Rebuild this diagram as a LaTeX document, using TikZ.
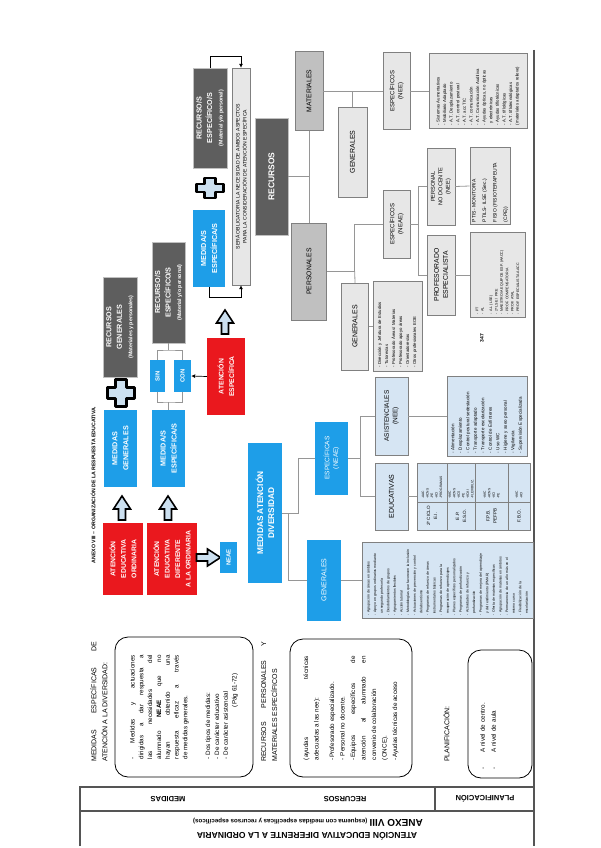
\documentclass[tikz,border=0pt]{standalone}
\usepackage{fontspec}
\setmainfont{Liberation Sans}
\usetikzlibrary{arrows.meta, positioning}

\definecolor{skyblue}{RGB}{30,158,232}
\definecolor{alertred}{RGB}{234,24,30}
\definecolor{darkgrey}{RGB}{94,94,94}
\definecolor{midgrey}{RGB}{192,192,192}
\definecolor{lightgrey}{RGB}{231,231,231}
\definecolor{paleblue}{RGB}{214,229,243}
\definecolor{arrowblue}{RGB}{204,224,240}
\definecolor{framegrey}{RGB}{85,85,85}
\definecolor{linegrey}{RGB}{150,150,150}

\newcommand{\fsz}[2]{\fontsize{#1}{#2}\selectfont}

\tikzset{
  uparrow/.pic={
    \draw[line width=1.6pt, fill=arrowblue, line join=miter]
      (-3.5,12) -- (-3.5,1) -- (-8.5,1) -- (0,-12) -- (8.5,1) -- (3.5,1) -- (3.5,12) -- cycle;
  },
  plussign/.pic={
    \draw[line width=2.2pt, fill=arrowblue, line join=round]
      (-5.5,-13.5) -- (5.5,-13.5) -- (5.5,-5.5) -- (13.5,-5.5) -- (13.5,5.5) -- (5.5,5.5)
      -- (5.5,13.5) -- (-5.5,13.5) -- (-5.5,5.5) -- (-13.5,5.5) -- (-13.5,-5.5) -- (-5.5,-5.5) -- cycle;
  }
}

\begin{document}
\begin{tikzpicture}[
  x=1pt, y=-1pt,
  tag/.style={rotate=90, inner sep=1pt, align=center},
  redbox/.style={tag, fill=alertred, text=white, font=\bfseries\fsz{6.8}{10.5}},
  bluebox/.style={tag, fill=skyblue, text=white, font=\bfseries\fsz{7.2}{11}},
  bluetag/.style={tag, fill=skyblue, text=white, font=\fsz{6.5}{8.5}},
  darkbox/.style={tag, fill=darkgrey, draw=midgrey, text=white, font=\bfseries\fsz{7.2}{10.5}},
  midbox/.style={tag, fill=midgrey, draw=gray, font=\fsz{6.8}{8.5}},
  greybox/.style={tag, fill=lightgrey, draw=gray, font=\fsz{6.5}{8.5}},
  palebox/.style={tag, fill=paleblue, draw=gray, font=\fsz{6.5}{8.5}},
  listbox/.style={tag, draw=gray, align=left, inner sep=2pt},
  roundbox/.style={tag, draw=black, thick, rounded corners=13pt},
  link/.style={draw=linegrey, line width=0.8pt},
  pointer/.style={draw=black, line width=0.7pt, -{Latex[length=4pt,width=4pt]}},
  frame/.style={draw=framegrey, line width=1.5pt},
  flip/.style={rotate=180, inner sep=0pt, font=\bfseries\fsz{7.5}{9}}
]
\useasboundingbox (0,0) rectangle (600,848);

% page frame and heading rows
\draw[frame] (534,50) -- (534,846);
\draw[frame] (80,846) -- (80,787) -- (534,787);
\draw[frame] (80,811) -- (534,811);
\draw[frame] (435,787) -- (435,811);
\node[flip] (hmedidas) at (168,799) {MEDIDAS};
\node[flip] (hrecursos) at (345,799) {RECURSOS};
\node[flip] (hplan) at (485,799) {PLANIFICACIÓN};
\node[flip] (hanexo) at (308,822) {{\fsz{10}{12}ANEXO VIII} {\fsz{6.2}{8}(esquema con medidas específicas y recursos específicos)}};
\node[flip, font=\bfseries\fsz{8.6}{10}] (htitle) at (307,836) {ATENCIÓN EDUCATIVA DIFERENTE A LA ORDINARIA};

% left column
\node[tag, anchor=north west, text width=120pt, align=justify, font=\fsz{7}{11}] (headmed) at (89,763)
  {MEDIDAS ESPECÍFICAS DE\linebreak ATENCIÓN A LA DIVERSIDAD:};
\node[roundbox, minimum width=140pt, minimum height=138pt, text width=104pt, align=justify, font=\fsz{6.3}{8.8}] (boxmed) at (184,707)
  {- Medidas y actuaciones\linebreak dirigidas a dar respuesta a\linebreak las necesidades del\linebreak
   alumnado {\bfseries NEAE} que no\linebreak hayan obtenido una\linebreak respuesta eficaz a través\linebreak
   de medidas generales.\\[14pt]
   - Dos tipos de medidas:\\ - De carácter educativo\\ - De carácter asistencial\\ \hspace*{52pt}(Pág 61-72)};
\node[tag, anchor=north west, text width=120pt, align=justify, font=\fsz{7}{11}] (headrec) at (260,763)
  {RECURSOS PERSONALES Y\linebreak MATERIALES ESPECÍFICOS};
\node[roundbox, minimum width=138pt, minimum height=122pt, text width=104pt, align=justify, font=\fsz{6.3}{10.5}] (boxrec) at (351,708)
  {(ayudas\hfill técnicas\linebreak adecuadas a las nee):\\[5pt]
   -Profesorado especializado.\\ - Personal no docente.\\ -Equipos específicos de\linebreak
   atención al alumnado en\linebreak convenio de colaboración\\ (ONCE).\\ -Ayudas técnicas de acceso};
\node[tag, anchor=north west, font=\fsz{7}{11}] (headplan) at (442,763) {PLANIFICACIÓN:};
\node[roundbox, minimum width=128pt, minimum height=64pt] (boxplan) at (500,714) {};
\node[tag, text width=110pt, align=left, font=\fsz{6.3}{11}] (planlist) at (488,714)
  {-\hspace{14pt}A nivel de centro.\\ -\hspace{14pt}A nivel de aula};

% title
\node[tag, font=\bfseries\fsz{5.2}{6}] (anexo) at (93,485) {ANEXO VIII – ORGANIZACIÓN DE LA RESPUESTA EDUCATIVA.};

% attention types and measures
\node[redbox, minimum width=72pt, minimum height=40pt] (ordinaria) at (123,559) {ATENCIÓN\\EDUCATIVA\\ORDINARIA};
\node[redbox, minimum width=72pt, minimum height=50pt] (diferente) at (172,559) {ATENCIÓN\\EDUCATIVA\\DIFERENTE\\A LA ORDINARIA};
\pic at (122,508) {uparrow};
\pic at (168,508) {uparrow};
\node[bluebox, minimum width=77pt, minimum height=33pt] (medgen) at (120.5,448.5) {MEDIDAS\\GENERALES};
\node[bluebox, minimum width=77pt, minimum height=33pt] (medesp) at (168.5,448.5) {MEDIDA/S\\ESPECÍFICA/S};
\pic at (121,393) {plussign};
\node[bluebox, font=\bfseries\fsz{6}{7}, minimum width=32pt, minimum height=15pt] (sin) at (157.5,376) {SIN};
\node[bluebox, font=\bfseries\fsz{6}{7}, minimum width=32pt, minimum height=17pt] (con) at (182.5,376) {CON};
\node[redbox, minimum width=77pt, minimum height=38pt] (especifica) at (226,376.5) {ATENCIÓN\\ESPECÍFICA};
\node[darkbox, minimum width=100pt, minimum height=34pt] (recgen) at (120,327)
  {RECURSOS\\GENERALES\\{\fsz{5.3}{6}(Materiales y personales)}};
\node[darkbox, minimum width=101pt, minimum height=33pt] (recesp) at (168.5,292.5)
  {RECURSO/S\\ESPECÍFICO/S\\{\fsz{5.3}{6}(Material y/o personal)}};
\coordinate (sinconlow) at (168.5,402);
\coordinate (sinconup) at (168.5,350);
\draw[link] (sin.west) |- (sinconlow) -| (con.west);
\draw[link] (sinconlow) -- (medesp.east);
\draw[link] (sin.east) |- (sinconup) -| (con.east);
\draw[link] (sinconup) -- (recesp.west);
\draw[pointer] (especifica.north) -- (con.south);

% both aspects
\pic at (225,322) {uparrow};
\node[bluebox, minimum width=77pt, minimum height=32pt] (medesp2) at (209,248.5) {MEDIDA/S\\ESPECÍFICA/S};
\pic[yscale=0.75] at (210,188) {plussign};
\node[darkbox, minimum width=100pt, minimum height=34pt] (recesp2) at (210,118)
  {RECURSO/S\\ESPECÍFICO/S\\{\fsz{5.3}{6}(Material y/o personal)}};
\node[greybox, font=\fsz{5.1}{7}, minimum width=217pt, minimum height=18pt, inner sep=0pt] (obligatoria) at (241,176.5)
  {SERÁ OBLIGATORIA LA NECESIDAD DE AMBOS ASPECTOS\\PARA LA CONSIDERACIÓN DE ATENCIÓN ESPECÍFICA};
\draw[pointer] (recesp2.east) -- ++(0,-11) -| (obligatoria.east);
\draw[pointer] (medesp2.west) -- ++(0,10) -| (obligatoria.west);

% resources tree
\node[darkbox, font=\bfseries\fsz{8.5}{10}, minimum width=117pt, minimum height=33pt] (recursos) at (271.5,176.5) {RECURSOS};
\node[midbox, minimum width=79pt, minimum height=28pt] (materiales) at (309,91) {MATERIALES};
\node[midbox, minimum width=97pt, minimum height=35pt] (personales) at (309,271.5) {PERSONALES};
\draw[link] (materiales.west) -- (personales.east);
\draw[link] (recursos.south) -- (recursos.south -| materiales.west);

\node[greybox, font=\fsz{7}{9}, minimum width=90pt, minimum height=29pt] (matgen) at (352.5,152) {GENERALES};
\node[greybox, font=\fsz{6}{8}, minimum width=77pt, minimum height=27pt] (matesp) at (396.5,91) {ESPECÍFICOS\\(NEE)};
\node[listbox, fill=lightgrey, font=\fsz{4.3}{6.6}, text width=68pt, minimum width=75pt, minimum height=98pt] (matlist) at (478,91)
  {- Sistemas Aumentativos\\- Mobiliario Adaptado\\- A.T. Desplazamiento\\- A.T. control postural\\- A.T. acc TIC\\
   - A.T. comunicación\\- A.T. Comunicación Auditiva\\- Ayudas ópticas, no ópticas\\ \ y electrónicas\\
   - Ayudas tiflotécnicas\\- A.T. tiflológicas\\- A.T. tiflotecnológicas\\(materiales adaptados relieve)};
\draw[link] (materiales.south) -- (matesp.north);
\draw[link] (matgen.east) -- (matgen.east |- materiales.south);
\draw[link] (matesp.south) -- (matlist.north);

\node[greybox, font=\fsz{7}{9}, minimum width=87pt, minimum height=27pt] (pergen) at (355,326.5) {GENERALES};
\node[greybox, font=\fsz{6}{8}, minimum width=68pt, minimum height=27pt] (peresp) at (396.5,224) {ESPECÍFICOS\\(NEAE)};
\node[listbox, fill=lightgrey, font=\fsz{4.3}{7}, text width=82pt, minimum width=90pt, minimum height=49pt] (pergenlist) at (397.5,326.5)
  {- Dirección y Jefatura de Estudios\\- Tutores/as\\- Profesorado Áreas/ Materias\\- Profesorado apoyo áreas\\
   - Orientadores/as\\- Otros profesionales EOE};
\draw[link] (personales.south) -- ++(28,0) coordinate (perbus) |- (peresp.north);
\draw[link] (perbus) -- (pergen.east);
\draw[link] (pergen.south) -- (pergenlist.north);

\node[greybox, font=\fsz{5.6}{7.5}, minimum width=77pt, minimum height=28pt] (nodocente) at (441,186.5) {PERSONAL\\NO DOCENTE\\(NEE)};
\node[greybox, font=\fsz{6.8}{9}, minimum width=80pt, minimum height=28pt] (especialista) at (441,275) {PROFESORADO\\ESPECIALISTA};
\draw[link] (peresp.south) -- ++(8,0) coordinate (espbus);
\draw[link] (nodocente.north) -| (espbus) |- (especialista.north);
\node[listbox, fill=lightgrey, font=\fsz{5}{10.5}, text width=72pt, minimum width=77pt, minimum height=40pt] (nodoclist) at (490,186)
  {PTIS- MONITOR/A\\PTILS- ILSE (Sec.)\\FISIO (FISIOTERAPEUTA (CPE))};
\node[listbox, fill=lightgrey, font=\fsz{3.6}{5.4}, text width=78pt, minimum width=85pt, minimum height=55pt] (esplist) at (497.5,275)
  {- PT\\- AL\\[3pt]- A.L (LSE)\\- 2ª LSE / PRE\\- MAESTRO/A EQUIPOS ESP. (AACC)\\- PROF. COMPENSATORIA\\- PROF. ATAL\\- PROF. ESPECIALISTA AACC};
\draw[link] (nodocente.south) -- (nodoclist.north);
\draw[link] (especialista.south) -- (esplist.north);
\node[tag, font=\bfseries\fsz{5}{6}] (pagenum) at (482,338) {347};

% measures for diversity
\pic[rotate=-90] at (208.5,557.5) {uparrow};
\node[bluebox, font=\bfseries\fsz{6}{7}, minimum width=31pt, minimum height=17pt] (neae) at (228.5,557.5) {NEAE};
\node[bluebox, font=\bfseries\fsz{8.3}{11}, minimum width=140pt, minimum height=34pt] (diversidad) at (265,513) {MEDIDAS ATENCIÓN\\DIVERSIDAD};
\node[bluetag, minimum width=73pt, minimum height=33pt] (mespecif) at (331.5,458) {ESPECÍFICAS\\(NEAE)};
\node[bluetag, font=\fsz{7}{9}, minimum width=81pt, minimum height=34pt] (mgeneral) at (324,580) {GENERALES};
\draw[link] (diversidad.south) -- ++(16,0) |- (mespecif.north);
\draw[link] (diversidad.south) ++(6,0) |- (mgeneral.north);
\node[listbox, fill=paleblue, font=\fsz{3.5}{6.6}, text width=70pt, minimum width=76pt, minimum height=171pt] (mgenlist) at (447.5,580)
  {- Agrupación de áreas en ámbitos\\- Apoyo en grupos ordinarios mediante\\ \ un segundo profesor/a\\
   - Desdoblamientos de grupos\\- Agrupamientos flexibles\\- Acción tutorial\\
   - Metodologías que favorecen la inclusión\\- Actuaciones de prevención y control\\ \ del absentismo\\
   - Programas de refuerzo de áreas\\ \ instrumentales básicas\\- Programas de refuerzo para la\\ \ recuperación de aprendizajes\\
   - Planes específicos personalizados\\- Programas de profundización\\- Actividades de refuerzo y\\ \ profundización\\
   - Programas de mejora del aprendizaje\\ \ y del rendimiento (PMAR)\\- Oferta de materias específicas\\
   - Agrupación de materias en ámbitos\\- Permanencia de un año más en el\\ \ mismo curso\\- Flexibilización de la\\ \ escolarización};
\draw[link] (mgeneral.south) -- (mgenlist.north);

\node[palebox, minimum width=78pt, minimum height=33pt] (asistenciales) at (391.5,416) {ASISTENCIALES\\(NEE)};
\node[palebox, font=\fsz{7}{9}, minimum width=67pt, minimum height=33pt] (educativas) at (391.5,496.5) {EDUCATIVAS};
\draw[link] (mespecif.south) -- ++(12,0) coordinate (mespbus);
\draw[link] (asistenciales.north) -| (mespbus) |- (educativas.north);
\node[listbox, fill=paleblue, font=\fsz{4.5}{7.5}, text width=74pt, minimum width=80pt, minimum height=80pt] (asislist) at (487,416)
  {- Alimentación\\- Desplazamiento\\- Control postural sedestación\\- Transporte adaptado\\- Transporte escolarización\\
   - Control de Esfínteres\\- Uso WC\\- Higiene y aseo personal\\- Vigilancia\\- Supervisión Especializada};
\draw[link] (asistenciales.south) -- (asislist.north);

% stages table
\node[tag, fill=paleblue, draw=gray, minimum width=67pt, minimum height=113pt] (etapas) at (473.5,496.5) {};
\draw[link] (educativas.south) -- (etapas.north);
\foreach \xcut in {447,475,508}
  \draw[draw=gray] (\xcut,463) -- (\xcut,530);
\draw[draw=gray] (417,502) -- (530,502);
\begin{scope}[every node/.style={tag, font=\fsz{4.6}{7}}]
  \node (infantil) at (432,516) {2º CICLO\\E.I.};
  \node (primaria) at (461,516) {E.P.\\E.S.O.};
  \node (fpbasica) at (491.5,516) {F.P.B.\\PEFPB};
  \node (fbo) at (519,516) {F.B.O.};
\end{scope}
\begin{scope}[every node/.style={tag, anchor=west, align=left, font=\fsz{3.3}{4.5}}]
  \node (infitems) at (432,500) {-AAC\\-ACNS\\-PE\\-ACI\\-PROGRAMAS};
  \node (priitems) at (461,500) {-AAC\\-ACNS\\-ACS\\-PE\\-ACAI\\-FLEXIBILIZ.};
  \node (fpbitems) at (491.5,500) {-AAC\\-ACNS\\-ACI\\-PE};
  \node (fboitems) at (519,500) {-AAC\\-ACI};
\end{scope}

\end{tikzpicture}
\end{document}
